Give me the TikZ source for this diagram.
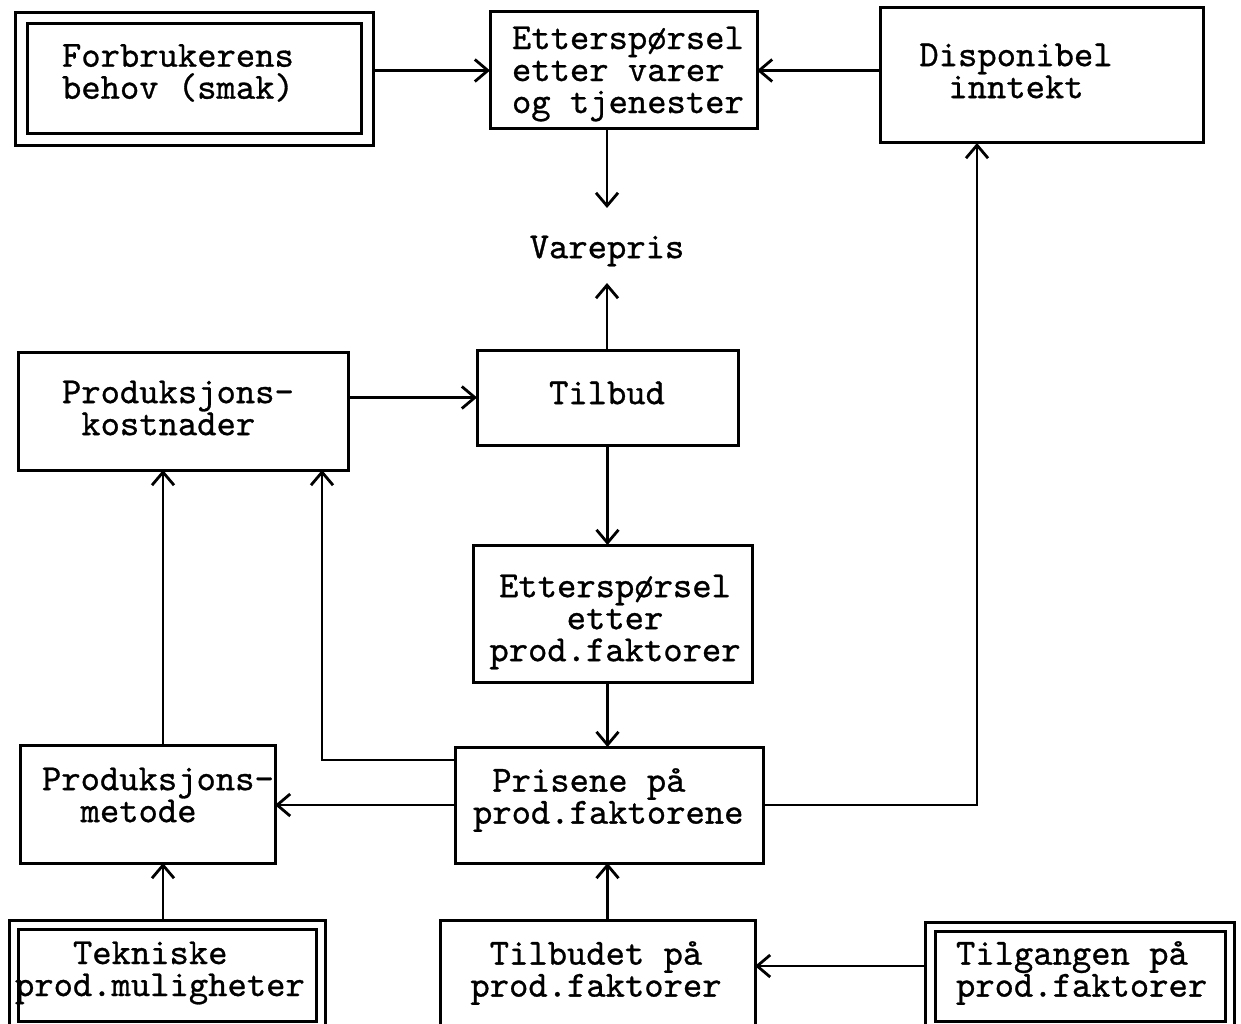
\documentclass[tikz,border=0pt]{standalone}
\usepackage{fontspec}
\newfontfamily\tw{lmmono10-regular.otf}[FakeBold=0.8]
\usetikzlibrary{arrows.meta}
\begin{document}
\begin{tikzpicture}[x=1pt,y=-1pt,
  box/.style={draw, line width=3pt, rectangle, inner sep=0pt, outer sep=0pt},
  dbox/.style={box, double, double distance=#1},
  txt/.style={font=\tw\fontsize{36.8pt}{32pt}\selectfont, inner sep=0pt, outer sep=0pt},
  arr/.style={line width=2.8pt, -{Straight Barb[length=13pt,width=22pt]}}]
\useasboundingbox (0,0) rectangle (1241,1024);
\clip (0,0) rectangle (1241,1024);

% boxes
\node[dbox=8.3pt, minimum width=346pt, minimum height=121.5pt] (fb) at (194.5,78.75) {};
\node[box, minimum width=267pt, minimum height=117pt] (ev) at (623.5,70.5) {};
\node[box, minimum width=323pt, minimum height=135pt] (di) at (1041.5,75.5) {};
\node[txt, minimum height=75pt] (vp) at (607,251) {Varepris};
\node[box, minimum width=330pt, minimum height=118pt] (pk) at (183,411) {};
\node[box, minimum width=261pt, minimum height=95pt] (tb) at (607.5,397.5) {};
\node[box, minimum width=279pt, minimum height=137pt] (ep) at (612.5,613.5) {};
\node[box, minimum width=308pt, minimum height=116pt] (pr) at (609,805) {};
\node[box, minimum width=255pt, minimum height=118pt] (pm) at (147.5,804) {};
\node[dbox=5.8pt, minimum width=307pt, minimum height=100.5pt] (te) at (167.5,975.25) {};
\node[box, minimum width=315pt, minimum height=115pt] (tt) at (597.5,977.5) {};
\node[dbox=6.8pt, minimum width=299.5pt, minimum height=99.5pt] (tg) at (1080.25,976.75) {};

% texts
\node[txt, anchor=west, align=left] (fbt) at (62,73) {Forbrukerens\\behov (smak)};
\node[txt, anchor=west, align=left] (evt) at (512,74) {Etterspørsel\\etter varer\\og tjenester};
\node[txt, align=center] (dit) at (1016,71) {Disponibel\\inntekt};
\node[txt, anchor=west, align=left] (pkt) at (62,408) {Produksjons-\\\hphantom{x}kostnader};
\node[txt] (tbt) at (607,393) {Tilbud};
\node[txt, align=center] (ept) at (615,622) {Etterspørsel\\etter\\prod.faktorer};
\node[txt, anchor=west, align=left] (prt) at (473,800) {\hphantom{x}Prisene på\\prod.faktorene};
\node[txt, anchor=west, align=left] (pmt) at (42,795) {Produksjons-\\\hphantom{xx}metode};
\node[txt, anchor=west, align=left] (tet) at (15,973) {\hphantom{xxx}Tekniske\\prod.muligheter};
\node[txt, align=center] (ttt) at (596,973) {Tilbudet på\\prod.faktorer};
\node[txt, anchor=west, align=left] (tgt) at (956,973) {Tilgangen på\\prod.faktorer};

% helper coordinates
\coordinate (jt) at (322,760);
\coordinate (cl) at (163,0);
\coordinate (jd) at (977,0);
\coordinate (jg) at (0,966);

% connectors
\draw[arr] ([xshift=5.65pt]fb.east |- ev.west) -- (ev.west);
\draw[arr] (di.west |- ev.east) -- (ev.east);
\draw[arr] (ev.south -| vp.north) -- ([yshift=5.5pt]vp.north);
\draw[arr] (tb.north -| vp.south) -- ([yshift=5.5pt]vp.south);
\draw[arr] (pk.east |- tb.west) -- (tb.west);
\draw[arr] (tb.south) -- (tb.south |- ep.north);
\draw[arr] (tb.south |- ep.south) -- (tb.south |- pr.north);
\draw[arr] (tt.north -| tb.south) -- (tb.south |- pr.south);
\draw[arr] (pr.west) -- (pr.west -| pm.east);
\draw[arr] (pr.west |- jt) -| (pk.south -| jt);
\draw[arr] (pm.north -| cl) -- (pk.south -| cl);
\draw[arr] ([yshift=4.4pt]te.north -| cl) -- (pm.south -| cl);
\draw[arr] (pr.east) -| (di.south -| jd);
\draw[arr] ([xshift=-4.9pt]tg.west |- jg) -- (tt.east |- jg);
\end{tikzpicture}
\end{document}
